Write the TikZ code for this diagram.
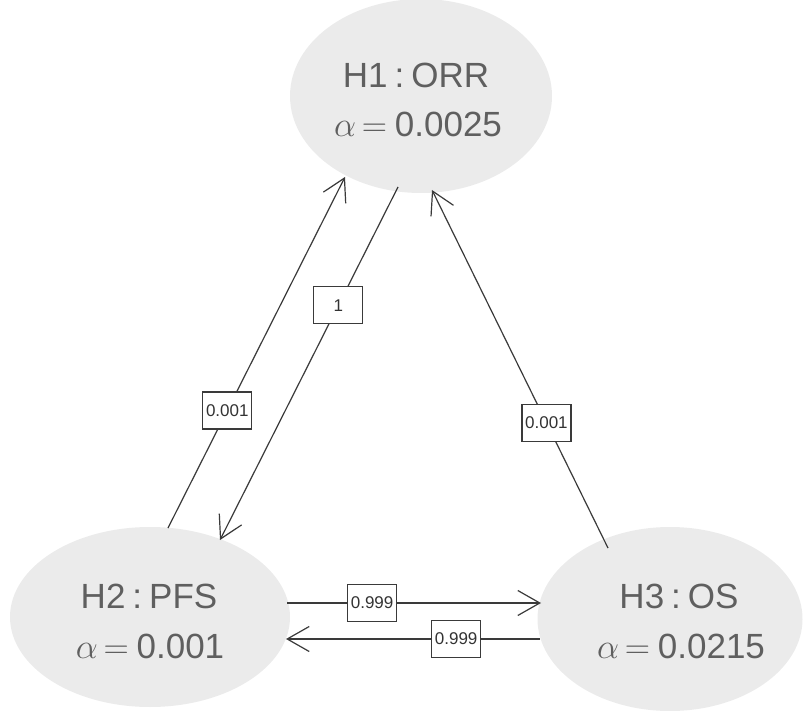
\RequirePackage{fix-cm}
\documentclass[tikz,border=0pt]{standalone}
\usepackage{fontspec}
\setmainfont{Liberation Sans}
\usetikzlibrary{arrows.meta,shapes.geometric}
\definecolor{nodefill}{HTML}{EBEBEB}
\definecolor{nodetext}{HTML}{5F5F5F}
\definecolor{edgecol}{HTML}{3A3A3A}
\definecolor{labtext}{HTML}{333333}
\newcommand{\alphaeq}{$\alpha\mskip 3mu{=}\mskip 4mu$}
\begin{document}
\begin{tikzpicture}[x=1pt,y=-1pt,
  hyp/.style={ellipse, fill=nodefill, draw=none, inner sep=0pt},
  htext/.style={anchor=base, text=nodetext, font=\fontsize{35}{42}\selectfont, inner sep=0pt},
  wlab/.style={draw=edgecol, fill=white, line width=1.2pt, minimum width=49pt, minimum height=37pt, inner sep=1pt, font=\fontsize{17}{20}\selectfont, text=labtext, pos=0.335},
  edgearrow/.style={draw=edgecol, line width=1.2pt, -{Straight Barb[length=22pt,width=25pt]}}
]
\useasboundingbox (0,0) rectangle (806,711);
% hypotheses
\node[hyp, minimum width=262pt, minimum height=194pt] (h1) at (421,96) {};
\node[hyp, minimum width=280pt, minimum height=180pt] (h2) at (150,617) {};
\node[hyp, minimum width=265pt, minimum height=184pt] (h3) at (670,619) {};
\node[htext] (h1a) at (416,88) {H1\hspace{0.2em}:\hspace{0.2em}ORR};
\node[htext] (h1b) at (418,137) {\alphaeq0.0025};
\node[htext] (h2a) at (149,608) {H2\hspace{0.2em}:\hspace{0.2em}PFS};
\node[htext] (h2b) at (150,658) {\alphaeq0.001};
\node[htext] (h3a) at (679,608) {H3\hspace{0.2em}:\hspace{0.2em}OS};
\node[htext] (h3b) at (681,658) {\alphaeq0.0215};
% edge end points
\coordinate (e1s) at (168,528);
\coordinate (e1e) at (345,177);
\coordinate (e2s) at (398,187);
\coordinate (e2e) at (220,540);
\coordinate (e3s) at (608,548);
\coordinate (e3e) at (432,190);
\coordinate (e4s) at (287,603);
\coordinate (e4e) at (541,603);
\coordinate (e5s) at (540,639);
\coordinate (e5e) at (286,639);
% edges
\draw[edgearrow] (e1s) -- node[wlab] (w1) {0.001} (e1e);
\draw[edgearrow] (e2s) -- node[wlab] (w2) {1} (e2e);
\draw[edgearrow] (e3s) -- node[wlab, pos=0.35] (w3) {0.001} (e3e);
\draw[edgearrow] (e4s) -- node[wlab] (w4) {0.999} (e4e);
\draw[edgearrow] (e5s) -- node[wlab, pos=0.33] (w5) {0.999} (e5e);
\end{tikzpicture}
\end{document}
